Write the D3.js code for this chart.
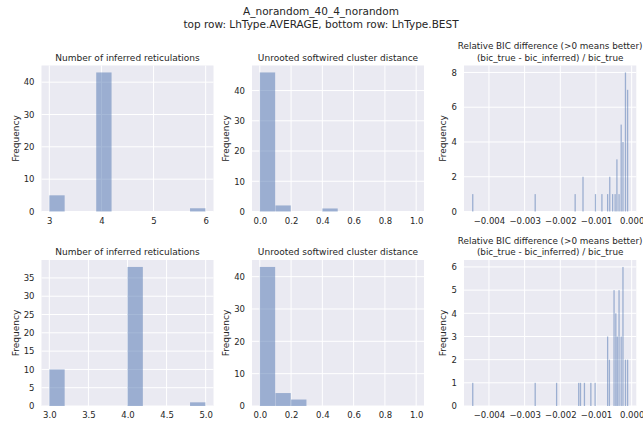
<!DOCTYPE html>
<html>
<head>
<meta charset="utf-8">
<style>
body { margin: 0; background: #fff; }
text { font-family: "DejaVu Sans", sans-serif; fill: #262626; }
.tick text { font-size: 8.5px; }
.ptitle { font-size: 9px; }
.suptitle { font-size: 10.5px; }
.ylabel { font-size: 9px; }
</style>
</head>
<body>
<script src="https://d3js.org/d3.v7.min.js"></script>
<script>

// ---- data ----
var suptitle = ["A_norandom_40_4_norandom", "top row: LhType.AVERAGE, bottom row: LhType.BEST"];
var retTitle = ["Number of inferred reticulations"];
var distTitle = ["Unrooted softwired cluster distance"];
var bicTitle = ["Relative BIC difference (>0 means better)", "(bic_true - bic_inferred) / bic_true"];

// 10-bin histograms (counts per bin) over the given range
var retTopRange = [3, 6];
var retTopCounts = [5, 0, 0, 43, 0, 0, 0, 0, 0, 1];
var retBotRange = [3, 5];
var retBotCounts = [10, 0, 0, 0, 0, 38, 0, 0, 0, 1];
var distRange = [0, 1];
var distTopCounts = [46, 2, 0, 0, 1, 0, 0, 0, 0, 0];
var distBotCounts = [43, 4, 2, 0, 0, 0, 0, 0, 0, 0];

// 100-bin histograms: only non-empty bins (bin centre, count)
var bicRange = [-0.00448, -0.00009];
var bicTopVals   = [-0.00445, -0.00270, -0.00158, -0.00136, -0.00101, -0.00083, -0.00067, -0.00061, -0.00053, -0.00046, -0.00041, -0.00035, -0.00029, -0.00024, -0.00017, -0.00011];
var bicTopCounts = [1, 1, 1, 2, 1, 1, 1, 2, 1, 1, 3, 1, 5, 4, 8, 7];
var bicBotVals   = [-0.00445, -0.00270, -0.00210, -0.00148, -0.00143, -0.00132, -0.00114, -0.00102, -0.00067, -0.00062, -0.00049, -0.00044, -0.00040, -0.00035, -0.00029, -0.00024, -0.00017, -0.00011];
var bicBotCounts = [1, 1, 1, 1, 1, 1, 1, 1, 3, 2, 5, 4, 3, 5, 3, 6, 2, 2];

var retTopTicks = [3, 4, 5, 6];
var retBotTicks = [3.0, 3.5, 4.0, 4.5, 5.0];
var distTicks = [0, 0.2, 0.4, 0.6, 0.8, 1.0];
var bicTicks = [-0.004, -0.003, -0.002, -0.001, 0];

var width = 643, height = 423;
var colX = [41.5, 252, 464], colW = [172, 172, 172.3];
var rowY = [65.5, 260], rowH = 146;

var svg = d3.select("body").append("svg")
    .attr("width", width)
    .attr("height", height);

svg.selectAll(".suptitle").data(suptitle).enter().append("text")
    .attr("class", "suptitle")
    .attr("x", 321).attr("y", function(d, i) { return 15 + i * 13; })
    .attr("text-anchor", "middle")
    .text(function(d) { return d; });

function binsFromCounts(range, counts) {
  var w = (range[1] - range[0]) / counts.length;
  return counts.map(function(c, i) { return {x0: range[0] + i * w, x1: range[0] + (i + 1) * w, n: c}; });
}

function binsFromVals(range, vals, counts, nb) {
  var w = (range[1] - range[0]) / nb;
  return vals.map(function(v, i) { return {x0: v - w / 2, x1: v + w / 2, n: counts[i]}; });
}

function panel(col, row, title, bins, xr, xticks, yticks, xfmt) {
  var x0 = colX[col], y0 = rowY[row], w = colW[col], h = rowH;
  var pad = (xr[1] - xr[0]) * 0.05;
  var ymax = d3.max(bins, function(d) { return d.n; }) * 1.05;
  var x = d3.scaleLinear().domain([xr[0] - pad, xr[1] + pad]).range([0, w]);
  var y = d3.scaleLinear().domain([0, ymax]).range([h, 0]);

  var g = svg.append("g").attr("transform", "translate(" + x0 + "," + y0 + ")");
  g.append("rect").attr("width", w).attr("height", h).attr("fill", "#EAEAF2");

  // grid
  g.append("g").selectAll("line").data(xticks).enter().append("line")
      .attr("x1", function(d) { return x(d); }).attr("x2", function(d) { return x(d); })
      .attr("y1", 0).attr("y2", h)
      .attr("stroke", "#fff").attr("stroke-width", 1);
  g.append("g").selectAll("line").data(yticks).enter().append("line")
      .attr("y1", function(d) { return y(d); }).attr("y2", function(d) { return y(d); })
      .attr("x1", 0).attr("x2", w)
      .attr("stroke", "#fff").attr("stroke-width", 1);

  // bars
  g.append("g").selectAll("rect").data(bins.filter(function(d) { return d.n > 0; })).enter().append("rect")
      .attr("x", function(d) { return x(d.x0); })
      .attr("width", function(d) { return Math.max(0.8, x(d.x1) - x(d.x0) - 0.3); })
      .attr("y", function(d) { return y(d.n); })
      .attr("height", function(d) { return h - y(d.n); })
      .attr("fill", "#4C72B0").attr("fill-opacity", 0.5);

  // axes (no spines, no tick marks)
  var xa = g.append("g").attr("transform", "translate(0," + h + ")")
      .call(d3.axisBottom(x).tickValues(xticks).tickFormat(xfmt).tickSize(0).tickPadding(6));
  var ya = g.append("g")
      .call(d3.axisLeft(y).tickValues(yticks).tickFormat(d3.format("d")).tickSize(0).tickPadding(7));
  [xa, ya].forEach(function(a) {
    a.select(".domain").remove();
    a.selectAll("text").attr("fill", "#262626").style("font-family", "DejaVu Sans, sans-serif");
  });

  g.append("text").attr("class", "ylabel")
      .attr("transform", "translate(" + (col == 2 ? -18 : -23) + "," + (h / 2) + ") rotate(-90)")
      .attr("text-anchor", "middle")
      .text("Frequency");

  g.selectAll(".ptitle").data(title).enter().append("text")
      .attr("class", "ptitle")
      .attr("x", w / 2)
      .attr("y", function(d, i) { return -5 - (title.length - 1 - i) * 11.5; })
      .attr("text-anchor", "middle")
      .style("font-size", title.length > 1 ? "8.8px" : null)
      .text(function(d) { return d; });
}

var fmtInt = d3.format("d"), fmt1 = d3.format(".1f"), fmt3 = d3.format(".3f");

panel(0, 0, retTitle, binsFromCounts(retTopRange, retTopCounts), retTopRange, retTopTicks, [0, 10, 20, 30, 40], fmtInt);
panel(1, 0, distTitle, binsFromCounts(distRange, distTopCounts), distRange, distTicks, [0, 10, 20, 30, 40], fmt1);
panel(2, 0, bicTitle, binsFromVals(bicRange, bicTopVals, bicTopCounts, 100), bicRange, bicTicks, [0, 2, 4, 6, 8], fmt3);
panel(0, 1, retTitle, binsFromCounts(retBotRange, retBotCounts), retBotRange, retBotTicks, [0, 5, 10, 15, 20, 25, 30, 35], fmt1);
panel(1, 1, distTitle, binsFromCounts(distRange, distBotCounts), distRange, distTicks, [0, 10, 20, 30, 40], fmt1);
panel(2, 1, bicTitle, binsFromVals(bicRange, bicBotVals, bicBotCounts, 100), bicRange, bicTicks, [0, 1, 2, 3, 4, 5, 6], fmt3);

</script>
</body>
</html>
